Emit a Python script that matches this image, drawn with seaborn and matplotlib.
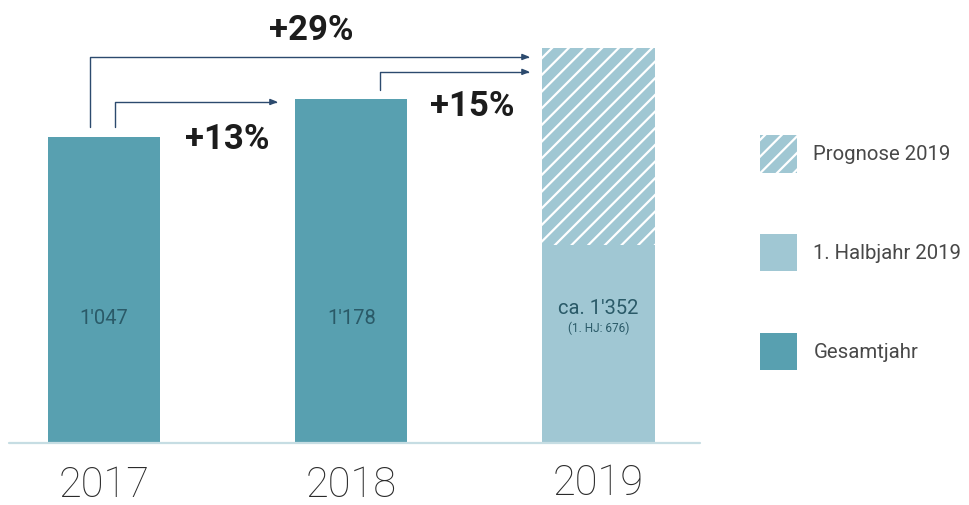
"""
Umsatzentwicklung 2017-2019 mit Prognose.

"""
import numpy as np
import pandas as pd
import matplotlib
matplotlib.use('Agg')
import matplotlib.pyplot as plt
import matplotlib.transforms as mtransforms
from matplotlib.patches import Patch
import seaborn as sns

YEARS = ['2017', '2018', '2019']
TOTALS = [1047, 1178, 1352]
HALF_YEAR_2019 = [676]
VALUE_LABELS = ["1'047", "1'178", "ca. 1'352"]
SUB_LABEL_2019 = '(1. HJ: 676)'
LEGEND_LABELS = ['Prognose 2019', '1. Halbjahr 2019', 'Gesamtjahr']
GROWTH = [
    # label, from, to
    ('+29%', '2017', '2019'),
    ('+13%', '2017', '2018'),
    ('+15%', '2018', '2019'),
]

DARK = '#58a0b0'
LIGHT = '#a0c7d3'
ARROW = '#2c4a6e'
TEXT_IN_BAR = '#2a5a68'


def plot_revenue():
    """

    """
    sns.set_style('white')
    plt.rcParams['font.family'] = ['Roboto', 'DejaVu Sans']
    plt.rcParams['hatch.linewidth'] = 1.6
    plt.rcParams['hatch.color'] = 'white'

    fig = plt.figure(figsize=(9.69, 5.05), dpi=100)
    ax = fig.add_axes([0, 62 / 505, 1, 443 / 505])

    data = pd.DataFrame({'Jahr': YEARS, 'Umsatz': TOTALS})
    palette = {'2017': DARK, '2018': DARK, '2019': LIGHT}

    sns.barplot(data=data, x='Jahr', y='Umsatz', hue='Jahr', palette=palette,
        order=YEARS, width=0.453, saturation=1, legend=False, ax=ax, linewidth=0)

    # forecast part of 2019 gets the hatch
    forecast = ax.patches[2]
    forecast.set_hatch('//')
    forecast.set_edgecolor('white')
    forecast.set_linewidth(0)

    half = pd.DataFrame({'Jahr': ['2019'], 'Umsatz': HALF_YEAR_2019})
    sns.barplot(data=half, x='Jahr', y='Umsatz', order=YEARS, color=LIGHT,
        width=0.453, saturation=1, ax=ax, linewidth=0)

    ax.set_xlim(-0.42, 3.498)
    ax.set_ylim(0, 1516)
    ax.axhline(0, xmin=9 / 969, xmax=700 / 969, color='#c6dde3', lw=1.6, clip_on=False)

    sns.despine(ax=ax, left=True, bottom=True)
    ax.set_yticks([])
    ax.set(xlabel=None, ylabel=None)
    ax.tick_params(axis='x', length=0, pad=16)
    ax.set_xticks(range(len(YEARS)))
    ax.set_xticklabels(YEARS, fontsize=30, color='#2b2b2b', fontweight='light')
    # 2019 sits a little higher in the original
    for lab, dy in zip(ax.get_xticklabels(), [0, 0, 2.5]):
        lab.set_transform(lab.get_transform()
            + mtransforms.ScaledTranslation(0, dy / 100, fig.dpi_scale_trans))

    # values inside bars
    for i, (value, label) in enumerate(zip(TOTALS, VALUE_LABELS)):
        y = 425 if i < 2 else 460
        ax.text(i, y, label, ha='center', va='center', fontsize=14.5,
            color=TEXT_IN_BAR)
    ax.text(2, 393, SUB_LABEL_2019, ha='center', va='center', fontsize=8.5,
        color=TEXT_IN_BAR)

    # growth arrows
    arrows = {
        '+29%': dict(x0=-0.057, y0=1081, y1=1321, x1=1.723, tx=0.84, ty=1410),
        '+13%': dict(x0=0.045, y0=1081, y1=1167, x1=0.704, tx=0.50, ty=1037),
        '+15%': dict(x0=1.116, y0=1208, y1=1270, x1=1.723, tx=1.49, ty=1153),
    }
    for label, start, end in GROWTH:
        a = arrows[label]
        ax.annotate('', xy=(a['x1'], a['y1']), xytext=(a['x0'], a['y0']),
            arrowprops=dict(arrowstyle='-|>,head_length=0.45,head_width=0.18',
                color=ARROW, lw=1.0, shrinkA=0, shrinkB=0,
                connectionstyle='angle,angleA=90,angleB=0,rad=0'))
        ax.text(a['tx'], a['ty'], label, ha='center', va='center', fontsize=25,
            fontweight='bold', color='#1c1c1c')

    handles = [
        Patch(facecolor=LIGHT, hatch='//', edgecolor='white', linewidth=0),
        Patch(facecolor=LIGHT, linewidth=0),
        Patch(facecolor=DARK, linewidth=0),
    ]
    ax.legend(handles, LEGEND_LABELS, loc='upper left',
        bbox_to_anchor=(760 / 969, 1 - 135 / 505), bbox_transform=fig.transFigure,
        frameon=False, handlelength=1.82, handleheight=2.45,
        handletextpad=0.8, labelspacing=3.0, borderpad=0, borderaxespad=0,
        labelcolor='#484848', prop={'size': 14.7})

    fig.savefig('out.png', dpi=100)

    return 'Complete'


if __name__ == '__main__':

    plot_revenue()

    print('Complete')
